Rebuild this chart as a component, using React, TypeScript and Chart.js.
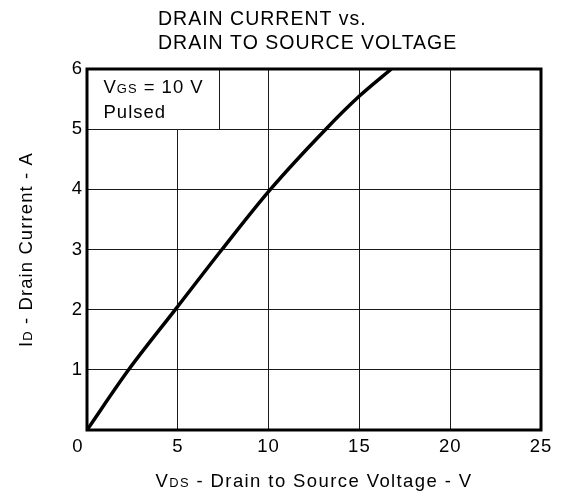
import React, { useEffect, useRef } from 'react';
import { Chart, registerables } from 'chart.js';

Chart.register(...registerables);

// ---- data ----
const vdsValues = [0, 2.29, 4.86, 7.43, 10.1, 13.15, 15, 16.76];
const idValues = [0, 1, 2, 3, 4, 5, 5.55, 6];
const xTicks = [0, 5, 10, 15, 20, 25];
const yTicks = [0, 1, 2, 3, 4, 5, 6];
const titleLines = ['DRAIN CURRENT vs.', 'DRAIN TO SOURCE VOLTAGE'];
const xTitle: [string, boolean][] = [['V', false], ['DS', true], [' - Drain to Source Voltage - V', false]];
const yTitle: [string, boolean][] = [['I', false], ['D', true], [' - Drain Current - A', false]];
const noteLine1: [string, boolean][] = [['V', false], ['GS', true], [' = 10 V', false]];
const noteLine2: [string, boolean][] = [['Pulsed', false]];
const noteBoxVds = 7.25;
const noteBoxId = 5;

const FONT = '"Liberation Sans", Arial, sans-serif';

function drawRich(
  ctx: CanvasRenderingContext2D,
  parts: [string, boolean][],
  x: number,
  y: number,
  size: number,
  align: 'left' | 'center',
  spacing: number
) {
  const main = `${size}px ${FONT}`;
  const sub = `${(size * 0.7).toFixed(2)}px ${FONT}`;
  (ctx as any).letterSpacing = `${spacing}px`;
  const widths = parts.map(([t, s]) => {
    ctx.font = s ? sub : main;
    return ctx.measureText(t).width;
  });
  const total = widths.reduce((a, b) => a + b, 0);
  let cx = align === 'center' ? x - total / 2 : x;
  ctx.textAlign = 'left';
  ctx.textBaseline = 'alphabetic';
  parts.forEach(([t, s], i) => {
    ctx.font = s ? sub : main;
    ctx.fillText(t, cx, y);
    cx += widths[i];
  });
}

const overlayPlugin = {
  id: 'overlay',
  beforeDraw(chart: any) {
    (chart.ctx as any).letterSpacing = '1px';
  },
  beforeDatasetsDraw(chart: any) {
    const { ctx, chartArea, scales } = chart;
    const xr = Math.round(scales.x.getPixelForValue(noteBoxVds)) + 0.5;
    const yb = Math.round(scales.y.getPixelForValue(noteBoxId)) + 0.5;
    ctx.save();
    ctx.fillStyle = '#ffffff';
    ctx.fillRect(chartArea.left, chartArea.top, xr - chartArea.left, yb - 0.5 - chartArea.top);
    ctx.strokeStyle = '#1a1a1a';
    ctx.lineWidth = 1;
    ctx.beginPath();
    ctx.moveTo(xr, chartArea.top);
    ctx.lineTo(xr, yb);
    ctx.stroke();
    ctx.fillStyle = '#000';
    drawRich(ctx, noteLine1, chartArea.left + 16.5, chartArea.top + 23.7, 18.5, 'left', 1);
    drawRich(ctx, noteLine2, chartArea.left + 16.5, chartArea.top + 48.7, 18.5, 'left', 1);
    ctx.restore();
  },
  afterDatasetsDraw(chart: any) {
    const { ctx, chartArea } = chart;
    ctx.save();
    ctx.strokeStyle = '#000';
    ctx.lineWidth = 3;
    ctx.strokeRect(chartArea.left, chartArea.top, chartArea.right - chartArea.left, chartArea.bottom - chartArea.top);
    ctx.restore();
  },
  afterDraw(chart: any) {
    const { ctx, chartArea } = chart;
    ctx.save();
    ctx.fillStyle = '#000';
    drawRich(ctx, [[titleLines[0], false]], chartArea.left + 71, 25, 19.5, 'left', 1);
    drawRich(ctx, [[titleLines[1], false]], chartArea.left + 71, 48.5, 19.5, 'left', 1);
    const cx = (chartArea.left + chartArea.right) / 2;
    drawRich(ctx, xTitle, cx, 486.7, 18.5, 'center', 1.4);
    const cy = (chartArea.top + chartArea.bottom) / 2;
    ctx.translate(25, cy);
    ctx.rotate(-Math.PI / 2);
    drawRich(ctx, yTitle, 0, 6.6, 18.5, 'center', 1.1);
    ctx.restore();
  },
};

export default function App() {
  const ref = useRef<HTMLCanvasElement | null>(null);

  useEffect(() => {
    document.body.style.margin = '0';
    if (!ref.current) return;
    const tickFont = { family: FONT, size: 18.5 };
    const chart = new Chart(ref.current, {
      type: 'line',
      data: {
        datasets: [
          {
            data: vdsValues.map((x, i) => ({ x, y: idValues[i] })),
            borderColor: '#000',
            borderWidth: 3.5,
            pointRadius: 0,
            fill: false,
            cubicInterpolationMode: 'monotone',
          },
        ],
      },
      options: {
        animation: false,
        responsive: false,
        layout: { padding: { top: 69, right: 21, left: 0, bottom: 0 } },
        plugins: {
          legend: { display: false },
          tooltip: { enabled: false },
          title: { display: false },
        },
        scales: {
          x: {
            type: 'linear',
            min: 0,
            max: 25,
            afterBuildTicks: (s: any) => {
              s.ticks = xTicks.map((value) => ({ value }));
            },
            afterFit: (s: any) => {
              s.height = 66;
            },
            grid: { color: '#1a1a1a', lineWidth: 1, drawTicks: false },
            border: { display: false },
            ticks: {
              padding: 6,
              color: '#000',
              font: tickFont,
              maxRotation: 0,
              autoSkip: false,
              callback: (v: any) => (v === 0 ? '0   ' : String(v)),
            },
          },
          y: {
            type: 'linear',
            min: 0,
            max: 6,
            afterBuildTicks: (s: any) => {
              s.ticks = yTicks.map((value) => ({ value }));
            },
            afterFit: (s: any) => {
              s.width = 87;
            },
            grid: { color: '#1a1a1a', lineWidth: 1, drawTicks: false },
            border: { display: false },
            ticks: {
              padding: 4,
              color: '#000',
              font: tickFont,
              autoSkip: false,
              callback: (v: any) => (v === 0 ? '' : String(v)),
            },
          },
        },
      },
      plugins: [overlayPlugin],
    } as any);
    return () => chart.destroy();
  }, []);

  return <canvas ref={ref} width={562} height={496} style={{ display: 'block' }} />;
}
